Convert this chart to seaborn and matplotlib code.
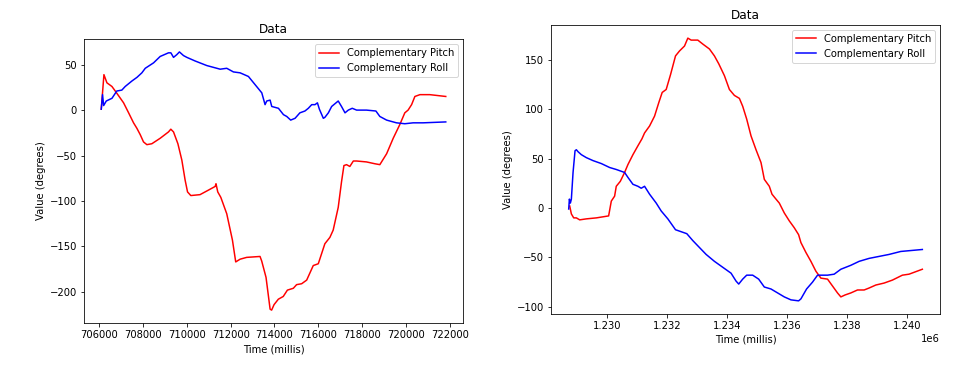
import matplotlib
matplotlib.use("Agg")
import matplotlib.pyplot as plt
import seaborn as sns

# left recording
LEFT_TIME_PITCH = [706091, 706213, 706350, 706578, 706730, 707110, 707340, 707565, 707717, 707870,
                   708020, 708173, 708400, 708780, 709160, 709267, 709390, 709590, 709770, 709920,
                   710030, 710180, 710600, 710985, 711290, 711330, 711410, 711550, 711820, 712080,
                   712230, 712430, 712730, 713340, 713416, 713614, 713800, 713870, 713980, 714176,
                   714400, 714590, 714860, 715010, 715240, 715470, 715770, 716000, 716300, 716530,
                   716680, 716910, 717060, 717170, 717290, 717440, 717600, 717750, 718200, 718580,
                   718810, 719120, 719420, 719720, 719950, 720100, 720260, 720410, 720640, 721090,
                   721820]
LEFT_PITCH = [1, 39, 30, 26, 21, 8, -3, -14, -20, -27,
              -35, -38, -37, -31, -24, -21, -24, -37, -55, -77,
              -90, -94, -93, -88, -84, -81, -90, -96, -114, -143,
              -167, -164, -162, -161, -166, -184, -219, -220, -214, -208,
              -205, -198, -196, -192, -191, -187, -171, -169, -147, -140,
              -132, -107, -79, -61, -60, -62, -56, -56, -57, -59,
              -60, -48, -31, -16, -3, 0, 6, 15, 17, 17,
              15]
LEFT_TIME_ROLL = [706091, 706150, 706200, 706320, 706580, 706800, 707030, 707185, 707490, 707720,
                  707945, 708100, 708480, 708780, 709160, 709270, 709390, 709540, 709660, 709845,
                  710000, 710380, 710910, 711370, 711520, 711820, 712125, 712430, 712810, 713115,
                  713420, 713570, 713645, 713800, 713875, 714180, 714410, 714560, 714740, 714940,
                  715160, 715390, 715545, 715700, 715850, 715960, 716050, 716230, 716300, 716460,
                  716610, 716760, 716910, 717060, 717220, 717370, 717550, 717750, 718200, 718630,
                  718810, 719120, 719570, 719950, 720330, 720780, 721820]
LEFT_ROLL = [1, 17, 5, 10, 13, 21, 22, 26, 32, 36,
             41, 46, 52, 59, 63, 63, 58, 61, 64, 60,
             58, 54, 49, 46, 45, 46, 42, 41, 37, 28,
             19, 6, 10, 11, 4, 2, -5, -7, -11, -9,
             -3, -1, 2, 6, 6, 8, 1, -9, -8, -3,
             4, 7, 10, 4, -3, 0, 2, 0, 0, -1,
             -7, -11, -14, -15, -14, -14, -13]

# right recording
RIGHT_TIME_PITCH = [1228772, 1228827, 1228905, 1228993, 1229104, 1229325, 1229657, 1230066, 1230155, 1230265,
                    1230320, 1230454, 1230597, 1230708, 1230874, 1231040, 1231173, 1231261, 1231427, 1231593,
                    1231737, 1231847, 1231980, 1232124, 1232290, 1232423, 1232589, 1232700, 1232810, 1233031,
                    1233197, 1233418, 1233584, 1233728, 1233916, 1234082, 1234248, 1234414, 1234524, 1234657,
                    1234801, 1234967, 1235133, 1235243, 1235409, 1235498, 1235631, 1235741, 1235907, 1236073,
                    1236239, 1236383, 1236460, 1236626, 1236792, 1236958, 1237124, 1237345, 1237511, 1237677,
                    1237788, 1237932, 1238120, 1238341, 1238562, 1238728, 1238949, 1239226, 1239502, 1239834,
                    1240055, 1240498]
RIGHT_PITCH = [2, -6, -10, -10, -12, -11, -10, -8, 7, 12,
               22, 27, 36, 44, 54, 63, 70, 76, 83, 93,
               107, 117, 120, 135, 154, 159, 164, 172, 170, 170,
               166, 161, 154, 146, 134, 120, 114, 111, 103, 90,
               73, 59, 46, 29, 22, 14, 9, 5, -5, -13,
               -20, -27, -35, -45, -54, -64, -71, -72, -79, -86,
               -90, -88, -86, -83, -83, -81, -78, -76, -73, -68,
               -67, -62]
RIGHT_TIME_ROLL = [1228739, 1228761, 1228794, 1228827, 1228883, 1228949, 1228993, 1229049, 1229159, 1229325,
                   1229546, 1229823, 1230100, 1230320, 1230597, 1230708, 1230874, 1231040, 1231150, 1231261,
                   1231427, 1231648, 1231814, 1232035, 1232290, 1232478, 1232666, 1232865, 1233086, 1233308,
                   1233584, 1233860, 1234137, 1234303, 1234392, 1234524, 1234657, 1234856, 1235055, 1235243,
                   1235465, 1235686, 1235907, 1236128, 1236383, 1236460, 1236648, 1236847, 1237013, 1237179,
                   1237345, 1237566, 1237788, 1238120, 1238396, 1238728, 1239060, 1239392, 1239779, 1240498]
RIGHT_ROLL = [-1, 9, 5, 9, 36, 58, 59, 57, 54, 51,
              48, 45, 41, 39, 36, 31, 24, 22, 20, 22,
              14, 5, -3, -11, -22, -24, -26, -33, -40, -47,
              -54, -60, -66, -74, -77, -72, -68, -68, -72, -80,
              -82, -86, -90, -93, -94, -92, -82, -75, -68, -68,
              -68, -67, -62, -58, -54, -51, -49, -47, -44, -42]

# render at 72 dpi so default sizes come out scaled like the screenshot
fig = plt.figure(figsize=(956 / 72, 381 / 72), dpi=72)
ax1 = fig.add_axes([0.0879, 0.1522, 0.3964, 0.7454])
ax2 = fig.add_axes([0.5764, 0.1759, 0.4069, 0.7585])

panels = [
    (ax1, LEFT_TIME_PITCH, LEFT_PITCH, LEFT_TIME_ROLL, LEFT_ROLL),
    (ax2, RIGHT_TIME_PITCH, RIGHT_PITCH, RIGHT_TIME_ROLL, RIGHT_ROLL),
]
for ax, tp, p, tr, r in panels:
    sns.lineplot(x=tp, y=p, ax=ax, color="red", label="Complementary Pitch",
                 sort=False, estimator=None)
    sns.lineplot(x=tr, y=r, ax=ax, color="blue", label="Complementary Roll",
                 sort=False, estimator=None)
    ax.set_title("Data")
    ax.set_xlabel("Time (millis)")
    ax.set_ylabel("Value (degrees)")
    ax.legend(loc="upper right")

fig.savefig("out.png", dpi=72)
